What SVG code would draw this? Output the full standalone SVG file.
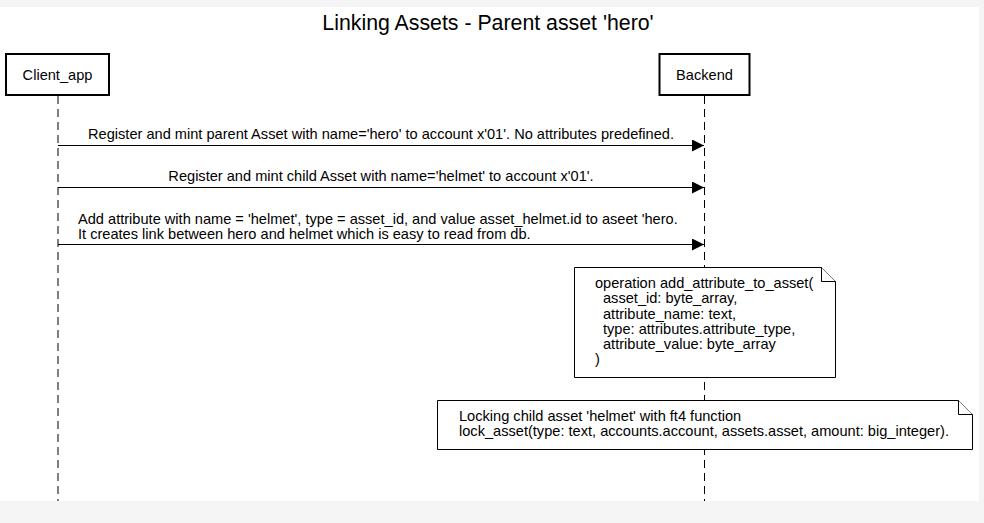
<svg xmlns="http://www.w3.org/2000/svg" width="984" height="523" viewBox="0 0 984 523">
<defs>
<style>
.t{font-family:"Liberation Sans",Arial,sans-serif;font-size:14.6px;fill:#000}
.ttl{font-size:21.3px}
.box{fill:#fff;stroke:#000;stroke-width:2}
.life{stroke:#000;stroke-width:1;stroke-dasharray:8,5;fill:none}
.msg{stroke:#000;stroke-width:1;fill:none}
.note{fill:#fff;stroke:#000;stroke-width:1}
</style>
<marker id="ah" viewBox="0 0 12 12" refX="12" refY="6" markerWidth="12" markerHeight="12" markerUnits="userSpaceOnUse" orient="auto">
<path d="M0,0 L12,6 L0,12 Z" fill="#000"/>
</marker>
</defs>
<rect x="0" y="0" width="984" height="523" fill="#f5f5f5"/>
<rect x="0" y="7" width="979" height="494" fill="#fff"/>
<text class="t ttl" x="488" y="30" text-anchor="middle">Linking Assets - Parent asset 'hero'</text>
<g id="lifelines">
<line class="life" x1="58" y1="96" x2="58" y2="501"/>
<line class="life" x1="704.5" y1="96" x2="704.5" y2="501"/>
</g>
<g id="Client_app">
<rect class="box" x="6" y="54" width="103" height="41"/>
<text class="t" x="57.5" y="80" text-anchor="middle">Client_app</text>
</g>
<g id="Backend">
<rect class="box" x="659.5" y="54" width="90" height="41"/>
<text class="t" x="704.5" y="80" text-anchor="middle">Backend</text>
</g>
<g id="connectors">
<line class="msg" x1="58" y1="145.5" x2="704" y2="145.5" marker-end="url(#ah)"/>
<text class="t" x="381" y="139" text-anchor="middle">Register and mint parent Asset with name='hero' to account x'01'. No attributes predefined.</text>
<line class="msg" x1="58" y1="187.5" x2="704" y2="187.5" marker-end="url(#ah)"/>
<text class="t" x="381" y="181" text-anchor="middle">Register and mint child Asset with name='helmet' to account x'01'.</text>
<line class="msg" x1="58" y1="244.5" x2="704" y2="244.5" marker-end="url(#ah)"/>
<text class="t" x="78" y="224">Add attribute with name = 'helmet', type = asset_id, and value asset_helmet.id to aseet 'hero.</text>
<text class="t" x="78" y="239">It creates link between hero and helmet which is easy to read from db.</text>
</g>
<g id="note_operation">
<path class="note" d="M574.5,267.5 H821.5 L835.5,281.5 V377.5 H574.5 Z"/>
<path class="note" d="M821.5,267.5 V281.5 H835.5" fill="none"/>
<text class="t" x="595" y="288">operation add_attribute_to_asset(</text>
<text class="t" x="603" y="303">asset_id: byte_array,</text>
<text class="t" x="603" y="319">attribute_name: text,</text>
<text class="t" x="603" y="334">type: attributes.attribute_type,</text>
<text class="t" x="603" y="349">attribute_value: byte_array</text>
<text class="t" x="595" y="364">)</text>
</g>
<g id="note_lock">
<path class="note" d="M437.5,400.5 H958.5 L972.5,414.5 V449.5 H437.5 Z"/>
<path class="note" d="M958.5,400.5 V414.5 H972.5" fill="none"/>
<text class="t" x="459" y="421">Locking child asset 'helmet' with ft4 function</text>
<text class="t" x="459" y="436">lock_asset(type: text, accounts.account, assets.asset, amount: big_integer).</text>
</g>
</svg>
